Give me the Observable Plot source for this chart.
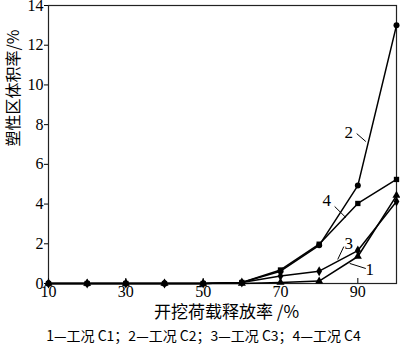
<!DOCTYPE html>
<html>
<head>
<meta charset="utf-8">
<script src="https://cdn.jsdelivr.net/npm/d3@7"></script>
<script src="https://cdn.jsdelivr.net/npm/@observablehq/plot@0.6"></script>
<style>
  html, body { margin: 0; padding: 0; background: white; }
</style>
</head>
<body>
<div id="chart"></div>
<script>
// ---- data ----
const releaseRate = [10, 20, 30, 40, 50, 60, 70, 80, 90, 100];
const seriesNames = ["1", "2", "3", "4"];
const seriesSymbols = ["triangle", "circle", "diamond", "square"];
const seriesC1 = [0, 0, 0, 0, 0, 0, 0.05, 0.12, 1.36, 4.43];
const seriesC2 = [0, 0, 0, 0, 0, 0.05, 0.62, 1.92, 4.93, 13.0];
const seriesC3 = [0, 0, 0, 0, 0, 0.05, 0.38, 0.62, 1.66, 4.13];
const seriesC4 = [0, 0, 0, 0, 0, 0.05, 0.68, 1.98, 4.03, 5.24];
const xTicks = [10, 30, 50, 70, 90];
const yTicks = [0, 2, 4, 6, 8, 10, 12, 14];
const xLabel = "开挖荷载释放率 /%";
const yLabel = "塑性区体积率/%";
const caption = "1—工况 C1；2—工况 C2；3—工况 C3；4—工况 C4";
// curve annotations (label + leader line), in data units
const annoText = ["2", "4", "3", "1"];
const annoX = [87.66, 81.96, 87.66, 93.1];
const annoY = [7.6, 4.18, 2.01, 0.70];
const leaderX1 = [89.7, 84.0, 86.37, 87.9];
const leaderY1 = [7.55, 3.88, 1.86, 1.01];
const leaderX2 = [92.06, 86.9, 84.8, 92.06];
const leaderY2 = [7.15, 3.32, 1.21, 0.755];

// ---- build tables ----
const allSeries = [seriesC1, seriesC2, seriesC3, seriesC4];
const data = [];
allSeries.forEach((vals, si) => {
  vals.forEach((v, i) => data.push({series: seriesNames[si], x: releaseRate[i], y: v}));
});
const annos = annoText.map((t, i) => ({t, x: annoX[i], y: annoY[i], x1: leaderX1[i], y1: leaderY1[i], x2: leaderX2[i], y2: leaderY2[i]}));

const serif = "'Liberation Serif', 'Times New Roman', 'Noto Sans CJK SC', serif";
const cjk = "'Noto Sans CJK SC', 'Liberation Serif', sans-serif";

const chart = Plot.plot({
  width: 400,
  height: 352,
  marginLeft: 48,
  marginRight: 4,
  marginTop: 5,
  marginBottom: 69,
  x: {domain: [10, 100]},
  y: {domain: [0, 14]},
  symbol: {domain: seriesNames, range: seriesSymbols},
  style: {fontFamily: serif, fontSize: "16px", color: "black", background: "white"},
  marks: [
    Plot.frame({stroke: "#222", strokeWidth: 1.2}),
    Plot.axisY({ticks: yTicks, tickSize: 4, tickPadding: 1, label: null, fontSize: 16}),
    Plot.axisX({ticks: xTicks, tickSize: -5, tickPadding: 7, label: null, fontSize: 16}),
    Plot.line(data, {x: "x", y: "y", z: "series", stroke: "black", strokeWidth: 1.5}),
    Plot.dot(data, {x: "x", y: "y", symbol: "series", fill: "black", r: 3}),
    Plot.link(annos, {x1: "x1", y1: "y1", x2: "x2", y2: "y2", stroke: "black", strokeWidth: 1}),
    Plot.text(annos, {x: "x", y: "y", text: "t", fontSize: 17, fontFamily: serif}),
    Plot.text([xLabel], {text: d => d, frameAnchor: "bottom", dy: 34, dx: 4, fontSize: 17, fontFamily: cjk}),
    Plot.text([yLabel], {text: d => d, frameAnchor: "left", dx: -35, dy: 2, rotate: -90, fontSize: 16, fontFamily: cjk}),
    Plot.text([caption], {text: d => d, frameAnchor: "bottom", dy: 57, dx: -19, fontSize: 14, fontFamily: cjk})
  ]
});
document.getElementById("chart").appendChild(chart);
</script>
</body>
</html>
